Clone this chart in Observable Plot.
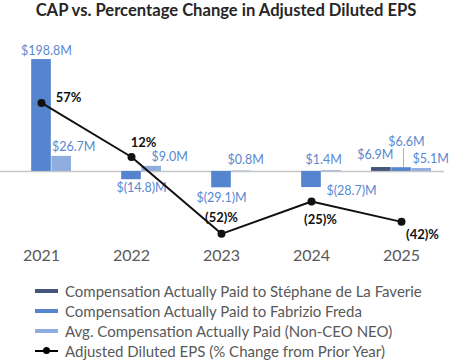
<!DOCTYPE html>
<html>
<head>
<meta charset="utf-8">
<script src="https://cdn.jsdelivr.net/npm/d3@7"></script>
<script src="https://cdn.jsdelivr.net/npm/@observablehq/plot@0.6"></script>
<style>
  body { margin: 0; background: #fff; font-family: Lato, "Open Sans", sans-serif; }
  #title { height: 26px; line-height: 20px; text-align: center; font-weight: bold; font-size: 16.6px; color: #262626; }
  #legend { padding-top: 11px; padding-left: 35px; }
  .row { display: flex; align-items: center; height: 20px; font-size: 15px; color: #595959; }
  .sw { width: 23px; height: 20px; margin-right: 7px; position: relative; }
  .sw .bar { position: absolute; left: 0; right: 0; top: 8px; height: 4px; }
  .sw .ln { position: absolute; left: 0; right: 0; top: 9px; height: 2px; background: #000; }
  .sw .dt { position: absolute; left: 8px; top: 6px; width: 7px; height: 7px; border-radius: 50%; background: #000; }
</style>
</head>
<body>
<div id="title">CAP vs. Percentage Change in Adjusted Diluted EPS</div>
<div id="chart"></div>
<div id="legend"></div>
<script>
// ---- data ----
const years = ["2021", "2022", "2023", "2024", "2025"];
const faverieCAP = [null, null, null, null, 6.9];       // $M
const fredaCAP = [198.8, -14.8, -29.1, -28.7, 6.6];     // $M
const neoCAP = [26.7, 9.0, 0.8, 1.4, 5.1];              // $M
const epsChange = [57, 12, -52, -25, -42];              // %
const seriesNames = [
  "Compensation Actually Paid to Stéphane de La Faverie",
  "Compensation Actually Paid to Fabrizio Freda",
  "Avg. Compensation Actually Paid (Non-CEO NEO)",
  "Adjusted Diluted EPS (% Change from Prior Year)"
];
// axis domains (primary $M, secondary %)
const yDomain = [-105, 222];
const epsDomain = [-49.2, 104];

// ---- style config ----
const colors = ["#44577A", "#5585CE", "#8FAEDF"];
const labelColor = "#5A88D0";
const nudges = { // [dx, dy] per series per year
  0: {2025: [-6, -13]},
  1: {2021: [5, -9], 2022: [10, 8], 2023: [0, 10], 2024: [40, 3], 2025: [5, -26]},
  2: {2021: [12, -9], 2022: [18, -9], 2023: [4, -11], 2024: [-8, -11], 2025: [9, -10]}
};
const epsNudges = {2021: [27, -5], 2022: [12, -14], 2023: [0, -16], 2024: [9, 18], 2025: [21, 13]};

const W = 452, H = 244, ml = 10, mr = 20;
const padInner = 0.33;
const step = (W - ml - mr) / (years.length - padInner);
const bw = step * (1 - padInner);
const sub = bw / 3;

const series = [faverieCAP, fredaCAP, neoCAP];
const fmtM = v => v < 0 ? `$(${Math.abs(v).toFixed(1)})M` : `$${v.toFixed(1)}M`;
const fmtP = v => v < 0 ? `(${Math.abs(v)})%` : `${v}%`;
const epsToY = d3.scaleLinear(epsDomain, yDomain);

const marks = [];
marks.push(Plot.ruleY([0], {stroke: "#c6c6c6", strokeWidth: 1.5, insetLeft: -10, insetRight: -12}));

series.forEach((vals, s) => {
  const rows = years.map((year, i) => ({year, value: vals[i]})).filter(d => d.value != null);
  marks.push(Plot.barY(rows, {
    x: "year", y: "value", fill: colors[s],
    insetLeft: s * sub, insetRight: (2 - s) * sub
  }));
  rows.forEach(d => {
    const [dx, dy] = (nudges[s] && nudges[s][d.year]) || [0, -10];
    marks.push(Plot.text([d], {
      x: "year", y: "value", text: r => fmtM(r.value),
      dx: (s - 1) * sub + dx, dy, fill: labelColor, fontSize: 12.5,
      textAnchor: "middle", lineAnchor: "middle"
    }));
  });
});

// 2025 Freda leader line
marks.push(Plot.ruleX([{year: "2025", value: fredaCAP[4]}], {
  x: "year", y1: "value", y2: "value", dx: 2, insetTop: -19, stroke: "#9ab6e0", strokeWidth: 1
}));

const epsRows = years.map((year, i) => ({year, eps: epsChange[i]}));
marks.push(Plot.line(epsRows, {x: "year", y: d => epsToY(d.eps), stroke: "#111", strokeWidth: 2}));
marks.push(Plot.dot(epsRows, {x: "year", y: d => epsToY(d.eps), r: 4, fill: "#111", stroke: "none"}));
epsRows.forEach(d => {
  const [dx, dy] = epsNudges[d.year];
  marks.push(Plot.text([d], {
    x: "year", y: r => epsToY(r.eps), text: r => fmtP(r.eps),
    dx, dy, fill: "#111", fontWeight: "bold", fontSize: 13,
    textAnchor: "middle", lineAnchor: "middle"
  }));
});

// year labels
marks.push(Plot.text(years, {
  x: d => d, frameAnchor: "bottom", dy: 25, text: d => d,
  fill: "#595959", fontSize: 16, lineAnchor: "middle"
}));

const chart = Plot.plot({
  width: W, height: H,
  marginLeft: ml, marginRight: mr, marginTop: 20, marginBottom: 40,
  x: {type: "band", domain: years, paddingInner: padInner, paddingOuter: 0, align: 0.5, axis: null},
  y: {domain: yDomain, axis: null},
  style: {fontFamily: "Lato, 'Open Sans', sans-serif", background: "white", overflow: "visible"},
  marks
});
document.getElementById("chart").appendChild(chart);

// legend
const legend = document.getElementById("legend");
seriesNames.forEach((name, i) => {
  const row = document.createElement("div");
  row.className = "row";
  const sw = document.createElement("div");
  sw.className = "sw";
  if (i < 3) {
    const b = document.createElement("div");
    b.className = "bar"; b.style.background = colors[i];
    sw.appendChild(b);
  } else {
    const l = document.createElement("div"); l.className = "ln"; sw.appendChild(l);
    const dt = document.createElement("div"); dt.className = "dt"; sw.appendChild(dt);
  }
  const t = document.createElement("span");
  t.textContent = name;
  row.appendChild(sw); row.appendChild(t);
  legend.appendChild(row);
});
</script>
</body>
</html>
